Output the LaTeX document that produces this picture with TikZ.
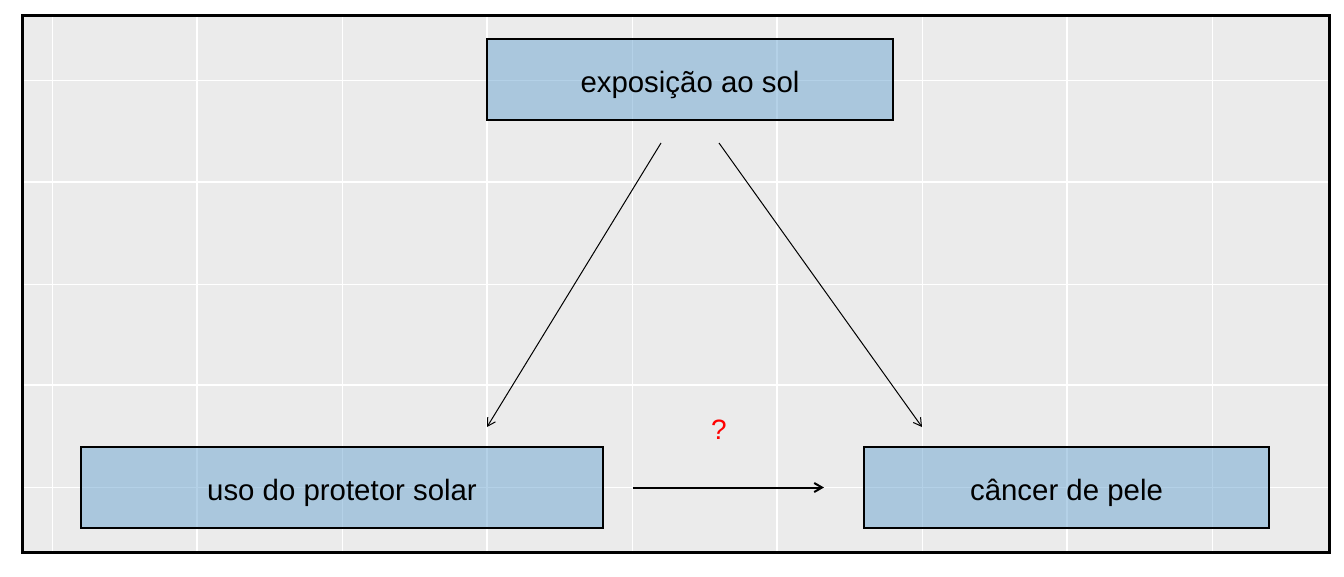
\documentclass[tikz,border=0pt]{standalone}
\usepackage{fontspec}
\setmainfont{Liberation Sans}
\usetikzlibrary{arrows.meta}
\definecolor{panel}{HTML}{EBEBEB}
\definecolor{boxblue}{RGB}{107,165,209}
\tikzstyle{var}=[rectangle, draw, line width=2pt, fill=boxblue, fill opacity=0.5, text opacity=1, minimum height=81pt, inner sep=0pt, text height=29pt, text depth=4pt, font=\fontsize{29.4}{34}\selectfont]
\tikzstyle{major}=[white, line width=2pt]
\tikzstyle{minor}=[white, line width=1pt]

\begin{document}
\begin{tikzpicture}[x=1pt, y=-1pt, >={Straight Barb[angle=60:9pt]}]
                    \useasboundingbox (0, 0) rectangle (1344, 576);
                    \fill[panel] (22, 15) rectangle (1329, 552);
                    \foreach \gx in {52, 342, 632, 922, 1212}
                        \draw[minor] (\gx, 15) -- (\gx, 552);
                    \foreach \gx in {197, 487, 777, 1067}
                        \draw[major] (\gx, 15) -- (\gx, 552);
                    \foreach \gy in {80, 284, 487}
                        \draw[minor] (22, \gy) -- (1329, \gy);
                    \foreach \gy in {182, 385}
                        \draw[major] (22, \gy) -- (1329, \gy);
                    \draw[line width=3pt] (22, 15) rectangle (1329, 552);
                    \node[var, minimum width=406pt] (sol) at (690, 79.5) {exposição ao sol};
                    \node[var, minimum width=522pt] (prot) at (342, 487.5) {uso do protetor solar};
                    \node[var, minimum width=405pt] (canc) at (1066.5, 487.5) {câncer de pele};
                    \node[red, font=\fontsize{28}{32}\selectfont] (q) at (719, 430) {?};
                    \draw[->, line width=1pt]
                        ([xshift=-29pt, yshift=-22pt]sol.south) -- ([xshift=145pt, yshift=19pt]prot.north);
                    \draw[->, line width=1pt]
                        ([xshift=29pt, yshift=-22pt]sol.south) -- ([xshift=-144.5pt, yshift=19pt]canc.north);
                    \draw[->, line width=2pt]
                        ([xshift=29pt]prot.east) -- ([xshift=-39pt]canc.west);
                \end{tikzpicture}
\end{document}
